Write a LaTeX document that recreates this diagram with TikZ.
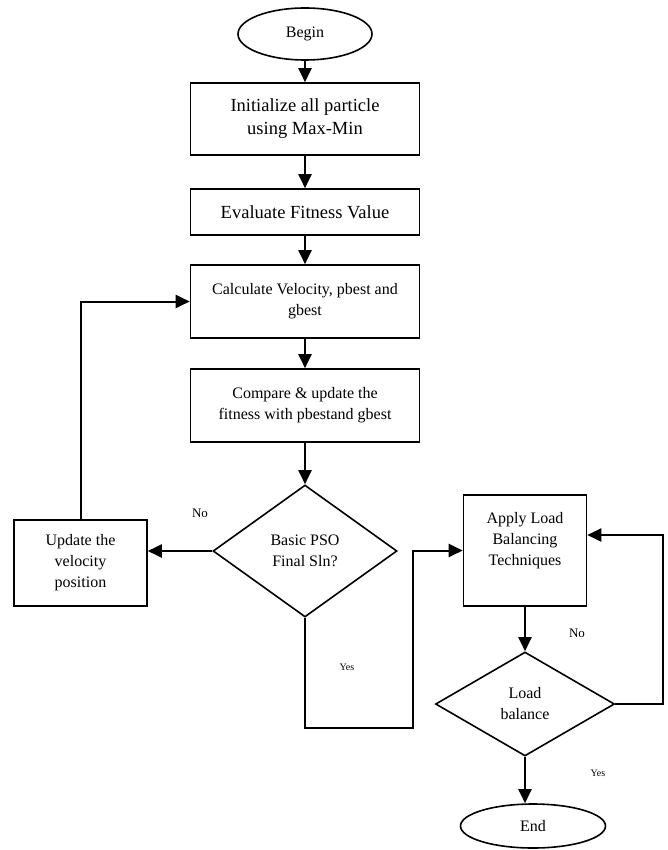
\documentclass[tikz,border=0pt]{standalone}
\usepackage{fontspec}
\setmainfont{Liberation Serif}
\usetikzlibrary{shapes.geometric,arrows.meta}

\tikzset{
  startstop/.style={draw, ellipse, line width=1.6pt, inner sep=0pt, font=\fontsize{16}{21}\selectfont},
  process/.style={draw, rectangle, line width=1.6pt, align=center, inner sep=0pt, font=\fontsize{16}{21}\selectfont},
  bigtext/.style={font=\fontsize{18.5}{23}\selectfont},
  decision/.style={draw, diamond, line width=1.6pt, align=center, inner sep=0pt, font=\fontsize{16}{21}\selectfont},
  flow/.style={line width=2pt, -{Triangle[length=14pt,width=13pt]}},
  answer/.style={font=\fontsize{13}{15}\selectfont},
  smallanswer/.style={font=\fontsize{10}{12}\selectfont},
}

\begin{document}
\begin{tikzpicture}[x=1pt, y=-1pt]
  \useasboundingbox (0,0) rectangle (667,850);
  % main column
  \node[startstop, minimum width=134pt, minimum height=52pt] (begin) at (305,34) {Begin};
  \node[process, bigtext, minimum width=229pt, minimum height=72pt] (init) at (305,119) {Initialize all particle\\using Max-Min};
  \node[process, bigtext, minimum width=229pt, minimum height=46pt] (eval) at (305,212) {Evaluate Fitness Value};
  \node[process, minimum width=229pt, minimum height=73pt] (calc) at (305,301.5) {Calculate Velocity, pbest and\\gbest};
  \node[process, minimum width=229pt, minimum height=73pt] (comp) at (305,405.5) {Compare \& update the\\fitness with pbestand gbest};
  \node[decision, minimum width=184pt, minimum height=132pt] (pso) at (305,551) {Basic PSO\\Final Sln?};
  \node[process, minimum width=133pt, minimum height=86pt] (upd) at (80.5,563) {Update the\\velocity\\position};
  % load balancing part
  \node[process, minimum width=123pt, minimum height=111pt] (apply) at (525,550.5) {Apply Load\\Balancing\\Techniques\\[3pt]};
  \node[decision, minimum width=179pt, minimum height=104pt] (bal) at (525,704) {Load\\balance};
  \node[startstop, minimum width=145pt, minimum height=44pt] (end) at (533,826) {End};

  \coordinate (yesbend) at (413,728);
  \coordinate (nobend) at (663,535);

  \draw[flow] (begin) -- (init);
  \draw[flow] (init) -- (eval);
  \draw[flow] (eval) -- (calc);
  \draw[flow] (calc) -- (comp);
  \draw[flow] (comp) -- (pso);
  \draw[flow] (pso.west) -- (pso.west -| upd.east);
  \draw[flow] (upd.north) |- (calc.west);
  \draw[flow] (pso.south) |- (yesbend) |- (apply.west);
  \draw[flow] (apply) -- (bal);
  \draw[flow] (bal.east) -| (nobend) -- (nobend -| apply.east);
  \draw[flow] (bal.south) -- (bal.south |- end.north);

  \node[answer] (nopso) at (200,513) {No};
  \node[answer] (nobal) at (577,633) {No};
  \node[smallanswer] (yespso) at (347,667) {Yes};
  \node[smallanswer] (yesbal) at (598,773) {Yes};
\end{tikzpicture}
\end{document}
